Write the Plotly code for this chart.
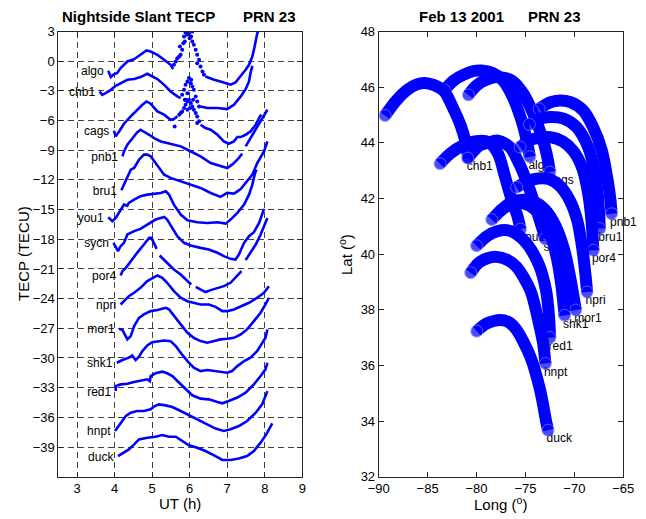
import plotly.graph_objects as go

FONT = "Liberation Sans, Arial, sans-serif"
BLUE = "#0000ff"

# ---------------- Left panel: nightside slant TECP (displayed, offset per station) ----------------
stations = ["algo", "chb1", "cags", "pnb1", "bru1", "you1", "sycn",
            "por4", "npri", "mor1", "shk1", "red1", "hnpt", "duck"]

ut_algo = [3.83, 3.90, 3.97, 4.07, 4.16, 4.34, 4.52, 4.69, 4.85, 4.96, 5.14, 5.32, 5.49, 5.56, None,
           6.42, 6.65, 6.82, 7.09, 7.22, 7.36, 7.49, 7.58, 7.67, 7.73, 7.80, 7.85]
tec_algo = [-0.97, -1.6, -1.35, -1.2, -0.7, -0.03, 0.2, 0.64, 1.08, 0.98, 0.64, 0.14, -0.37, -0.8, None,
            -1.54, -1.88, -2.05, -2.38, -2.15, -1.54, -0.87, -0.37, 0.48, 1.48, 2.83, 3.17]
sp_ut_algo = [5.58, 5.63, 5.67, 5.72, 5.74, 5.76, 5.80, 5.83, 5.85, 5.87, 5.89, 5.94, 5.98, 6.00,
              6.04, 6.07, 6.07, 6.11, 6.16, 6.20, 6.20, 6.25, 6.29, 6.34, 6.38]
sp_tec_algo = [-0.37, -0.03, 0.3, 0.48, 1.48, 0.64, 1.15, 1.82, 2.5, 1.99, 2.9, 2.66, 2.83, 2.33,
               2.5, 2.0, 3.0, 1.65, 1.15, 0.64, -0.2, 0.14, -0.53, -1.04, -1.37]

ut_chb1 = [3.60, 3.67, 3.76, 3.90, 4.03, 4.16, 4.34, 4.52, 4.69, 4.87, 4.96, 5.14, 5.32, 5.49, 5.67, 5.76, None,
           6.29, 6.47, 6.74, 7.00, 7.18, 7.36, 7.49, 7.58, 7.62, 7.67]
tec_chb1 = [-3.06, -3.4, -3.23, -2.9, -2.49, -2.22, -1.88, -1.81, -1.61, -1.27, -1.47, -1.81, -2.39, -3.06, -3.56, -3.73, None,
            -4.57, -4.74, -4.74, -4.84, -4.4, -3.56, -2.83, -2.05, -1.2, -0.47]
sp_ut_chb1 = [5.80, 5.85, 5.87, 5.89, 5.94, 5.94, 5.98, 6.03, 6.04, 6.07, 6.09, 6.11, 6.16, 6.20, 6.25]
sp_tec_chb1 = [-3.4, -2.9, -3.9, -2.39, -2.05, -3.23, -1.71, -2.22, -1.88, -2.56, -3.9, -2.9, -3.56, -4.07, -4.57]

ut_cags = [3.98, 4.03, 4.12, 4.25, 4.43, 4.60, 4.74, 4.85, 4.96, 5.14, 5.32, 5.49, 5.58, 5.67, None,
           6.29, 6.42, 6.56, 6.74, 6.91, 7.04, 7.18, 7.27, 7.36, 7.49, 7.62, 7.76, 7.87, 7.91]
tec_cags = [-7.03, -7.6, -7.1, -6.32, -5.58, -4.91, -4.4, -4.07, -4.3, -5.08, -5.41, -5.92, -5.85, -5.58, None,
            -6.42, -6.76, -6.93, -7.44, -8.11, -8.35, -8.11, -7.67, -7.67, -7.44, -7.1, -6.42, -5.58, -5.41]
sp_ut_cags = [5.60, 5.72, 5.76, 5.80, 5.85, 5.89, 5.89, 5.94, 5.94, 5.98, 6.01, 6.03, 6.07, 6.11, 6.16, 6.20, 6.20, 6.25]
sp_tec_cags = [-6.59, -5.41, -5.24, -5.08, -4.74, -4.4, -3.9, -4.07, -4.91, -3.9, -4.74, -4.23, -4.57, -4.91,
               -5.24, -5.58, -6.25, -6.08]

ut_pnb1 = [4.21, 4.25, 4.34, 4.47, 4.60, 4.69, 4.78, 4.92, 5.05, 5.23, 5.40, 5.58, 5.76, 5.94, 6.11, 6.29, 6.56,
           6.82, 7.00, 7.13, 7.27, 7.40, None, 7.49, 7.62, 7.76, 7.89, 7.98, 8.07]
tec_pnb1 = [-9.62, -9.12, -8.44, -7.77, -7.2, -6.93, -7.1, -7.44, -7.77, -8.11, -8.28, -8.44, -8.61, -8.95, -9.29,
            -9.62, -10.3, -10.63, -10.8, -10.46, -9.96, -9.35, None, -8.61, -7.77, -6.93, -6.08, -5.58, -4.91]

ut_bru1 = [4.18, 4.30, 4.43, 4.52, 4.65, 4.78, 4.87, 4.96, 5.09, 5.23, 5.32, 5.49, 5.76, 6.03, 6.29, 6.56, 6.82,
           7.00, 7.18, 7.36, 7.53, 7.67, 7.80, 7.98, 8.07]
tec_bru1 = [-13.05, -11.97, -10.96, -10.8, -9.96, -9.45, -9.45, -9.62, -10.29, -10.97, -11.47, -11.8, -12.14,
            -12.48, -12.81, -13.32, -13.72, -13.32, -13.39, -12.92, -12.14, -11.47, -10.3, -9.12, -8.1]

ut_you1 = [3.83, 3.94, 4.03, 4.12, 4.25, 4.34, 4.38, 4.52, 4.69, 4.87, 5.05, 5.23, 5.36, 5.45, 5.58, 5.76, 5.94,
           6.20, 6.47, 6.74, 6.96, 7.09, 7.27, 7.45, 7.58, 7.67, 7.73, 7.78]
tec_you1 = [-15.78, -16.18, -15.85, -15.34, -14.5, -14.6, -14.33, -14.0, -13.65, -13.49, -13.39, -13.32, -13.15,
            -13.49, -14.5, -15.5, -16.08, -16.28, -16.35, -16.28, -16.42, -16.01, -15.34, -14.5, -13.49, -12.48,
            -11.47, -10.96]

ut_sycn = [3.97, 4.03, 4.09, 4.16, 4.25, 4.34, 4.52, 4.69, 4.78, 4.92, 5.09, 5.23, 5.32, 5.40, 5.54, 5.67, 5.85,
           6.03, 6.29, 6.51, 6.74, 6.91, 7.09, 7.22, 7.31, 7.45, 7.58, 7.71, 7.85, 7.98]
tec_sycn = [-18.36, -18.87, -19.2, -18.7, -18.36, -17.52, -17.18, -16.95, -16.74, -16.35, -16.01, -15.85, -15.74,
            -16.01, -16.85, -17.69, -18.36, -18.63, -18.87, -19.04, -19.37, -19.71, -19.98, -20.05, -19.55, -18.36,
            -17.69, -17.28, -16.35, -14.93]

ut_por4 = [4.16, 4.21, 4.30, 4.43, 4.60, 4.78, 4.92, 4.98, 5.05, 5.12, None, 5.20, 5.32, 5.45, 5.58, 5.76, 5.94,
           6.04, None, 6.16, 6.29, 6.42, 6.56, 6.74, 6.91, 7.09, 7.27, 7.38, None, 7.49, 7.62, 7.76, 7.89, 7.98, 8.07]
tec_por4 = [-21.66, -21.22, -20.89, -20.21, -19.37, -18.53, -17.86, -17.86, -18.36, -18.97, None, -19.64, -20.11,
            -20.55, -21.05, -21.56, -22.23, -22.57, None, -22.81, -23.07, -23.34, -23.14, -22.91, -22.74, -22.4,
            -21.73, -21.22, None, -20.11, -19.37, -18.53, -17.52, -16.68, -15.85]

ut_npri = [4.16, 4.25, 4.38, 4.52, 4.69, 4.87, 5.05, 5.14, 5.27, 5.40, 5.58, 5.76, 5.94, 6.11, 6.29, 6.51, 6.69,
           6.87, 7.00, 7.18, 7.36, 7.58, 7.80, 7.98, 8.11]
tec_npri = [-24.59, -24.26, -23.75, -23.41, -22.91, -22.23, -21.8, -21.66, -21.9, -22.4, -23.24, -23.91, -24.26,
            -24.42, -24.59, -24.59, -24.83, -25.26, -25.26, -25.09, -24.76, -24.42, -23.91, -23.41, -22.74]

ut_mor1 = [4.12, 4.21, 4.34, 4.43, 4.52, 4.65, 4.78, 4.96, 5.14, 5.36, 5.45, 5.58, 5.76, 5.94, 6.11, 6.29, 6.47,
           6.65, 6.82, 7.00, 7.18, 7.36, 7.53, 7.71, 7.89, 8.02, 8.11]
tec_mor1 = [-27.05, -27.18, -28.12, -27.79, -26.78, -25.94, -25.6, -25.26, -25.16, -24.93, -25.09, -25.76, -26.6,
            -27.45, -27.96, -28.29, -28.46, -28.29, -28.12, -28.06, -27.96, -27.62, -27.11, -26.27, -25.43, -24.59,
            -23.91]

ut_shk1 = [4.06, 4.21, 4.38, 4.47, 4.56, 4.65, 4.74, 4.87, 5.00, 5.14, 5.32, 5.49, 5.63, 5.76, 5.94, 6.11, 6.29,
           6.47, 6.65, 6.82, 7.00, 7.13, 7.27, 7.45, 7.62, 7.80, 7.93, 8.02, 8.07]
tec_shk1 = [-30.48, -30.2, -29.97, -29.74, -30.2, -29.87, -29.3, -28.73, -28.4, -28.3, -28.23, -28.3, -28.8,
            -29.47, -30.31, -30.98, -31.32, -31.22, -31.32, -31.39, -31.49, -31.32, -30.82, -30.31, -29.97, -29.3,
            -28.46, -27.96, -27.12]

ut_red1 = [4.03, 4.03, 4.16, 4.34, 4.52, 4.69, 4.87, 4.94, 4.96, 5.09, 5.27, 5.40, 5.54, 5.72, 5.89, 6.07, 6.29,
           6.51, 6.74, 6.87, 7.04, 7.27, 7.49, 7.71, 7.89, 8.02, 8.07]
tec_red1 = [-33.35, -32.84, -32.67, -32.6, -32.43, -32.33, -32.16, -32.33, -31.82, -31.55, -31.38, -31.55, -31.82,
            -32.5, -33.17, -33.77, -34.11, -34.18, -34.45, -34.58, -34.34, -34.0, -33.5, -32.67, -31.82, -31.15,
            -30.48]

ut_hnpt = [4.01, 4.07, 4.16, 4.30, 4.43, 4.60, 4.78, 4.96, 5.07, 5.18, 5.36, 5.54, 5.76, 5.98, 6.20, 6.47, 6.69,
           6.91, 7.09, 7.31, 7.53, 7.76, 7.93, 8.07]
tec_hnpt = [-37.38, -37.04, -36.54, -35.87, -35.53, -35.36, -35.36, -35.19, -34.86, -34.69, -34.79, -34.96, -35.36,
            -35.8, -36.2, -36.71, -37.14, -37.38, -37.21, -36.88, -36.37, -35.53, -34.69, -33.35]

ut_duck = [4.09, 4.25, 4.38, 4.52, 4.65, 4.87, 5.09, 5.27, 5.45, 5.63, 5.80, 5.98, 6.20, 6.42, 6.65, 6.87, 7.09,
           7.31, 7.53, 7.71, 7.89, 8.04, 8.20]
tec_duck = [-39.91, -39.57, -39.24, -38.73, -38.23, -38.06, -37.96, -37.79, -37.96, -37.96, -38.4, -38.83, -39.07,
            -39.4, -39.84, -40.31, -40.31, -40.17, -39.91, -39.4, -38.56, -37.72, -36.61]

# ---------------- Right panel: pierce-point tracks (longitude, latitude) ----------------
lon_chb1 = [-89.35, -88.2, -87.1, -86.1, -85.3, -84.4, -83.3, -82.4, -81.6, -81.1, -80.85]
lat_chb1 = [44.98, 45.52, 45.9, 46.1, 46.15, 46.08, 45.85, 45.25, 44.6, 44.0, 43.45]
lon_algo = [-83.3, -82.3, -81.3, -80.3, -79.5, -78.4, -77.3, -76.3, -75.4, -74.85, -74.55]
lat_algo = [45.9, 46.25, 46.45, 46.58, 46.6, 46.52, 46.24, 45.65, 44.8, 44.05, 43.5]
lon_cags = [-80.83, -80.0, -78.6, -77.6, -76.4, -75.2, -74.2, -73.2, -72.7, -72.5]
lat_cags = [45.72, 46.06, 46.32, 46.36, 46.24, 45.76, 45.04, 44.09, 43.37, 42.95]
lon_pnb1 = [-73.6, -72.5, -71.5, -70.4, -69.1, -68.1, -67.2, -66.6, -66.3, -66.2]
lat_pnb1 = [45.22, 45.45, 45.52, 45.46, 45.16, 44.57, 43.73, 42.65, 41.9, 41.45]
lon_bru1 = [-74.6, -73.5, -72.5, -71.1, -69.8, -68.6, -67.9, -67.55, -67.4]
lat_bru1 = [44.66, 44.87, 44.93, 44.87, 44.57, 43.85, 42.89, 41.9, 40.92]
lon_you1 = [-83.73, -82.7, -81.35, -80.0, -78.8, -77.8, -77.1, -76.45, -75.85, -75.5]
lat_you1 = [43.25, 43.61, 43.91, 44.06, 44.03, 43.61, 42.8, 42.0, 41.4, 40.9]
lon_sycn = [-80.9, -79.7, -78.9, -77.8, -76.6, -75.7, -74.7, -73.8, -73.3, -73.0]
lat_sycn = [43.45, 43.9, 44.0, 44.08, 43.85, 43.3, 42.45, 41.5, 40.95, 40.55]
lon_por4 = [-75.55, -74.5, -73.5, -72.4, -71.2, -70.1, -69.2, -68.6, -68.25, -68.06]
lat_por4 = [43.85, 44.1, 44.18, 44.2, 44.05, 43.7, 43.1, 42.2, 41.2, 40.14]
lon_npri = [-75.9, -74.8, -73.7, -72.6, -71.5, -70.5, -69.7, -69.15, -68.85, -68.7]
lat_npri = [42.4, 42.62, 42.72, 42.7, 42.45, 41.95, 41.2, 40.1, 39.2, 38.64]
lon_mor1 = [-77.6, -76.5, -75.3, -74.2, -73.0, -71.9, -71.0, -70.4, -70.05, -69.85]
lat_mor1 = [41.55, 41.85, 41.95, 41.9, 41.6, 41.0, 40.1, 39.1, 38.4, 37.99]
lon_shk1 = [-78.45, -77.4, -76.3, -75.2, -74.1, -73.2, -72.3, -71.7, -71.3, -71.0]
lat_shk1 = [41.24, 41.6, 41.8, 41.82, 41.62, 41.2, 40.55, 39.7, 38.8, 37.8]
lon_red1 = [-80.0, -78.9, -77.9, -76.9, -75.9, -74.87, -73.6, -72.9, -72.6, -72.49]
lat_red1 = [40.3, 40.65, 40.82, 40.86, 40.72, 40.38, 39.6, 38.7, 37.8, 37.0]
lon_hnpt = [-80.6, -79.8, -78.96, -77.94, -76.9, -75.9, -74.5, -73.7, -73.2, -72.96]
lat_hnpt = [39.33, 39.68, 39.84, 39.9, 39.8, 39.54, 38.7, 37.63, 36.8, 36.07]
lon_duck = [-79.98, -79.0, -77.6, -76.7, -75.9, -74.5, -73.5, -72.85, -72.69]
lat_duck = [37.23, 37.5, 37.63, 37.55, 37.27, 36.31, 35.11, 33.92, 33.67]

g = globals()
fig = go.Figure()

# left labels (drawn first)
for s in stations:
    ut = g["ut_" + s]
    tec = g["tec_" + s]
    fig.add_trace(go.Scatter(x=[ut[0] - 0.12], y=[tec[0] - 0.15], mode="text", text=[s],
                             textposition="middle left", cliponaxis=False,
                             textfont=dict(family=FONT, size=12, color="black"),
                             xaxis="x", yaxis="y", hoverinfo="skip", showlegend=False))
# left curves
for s in stations:
    fig.add_trace(go.Scatter(x=g["ut_" + s], y=g["tec_" + s], mode="lines",
                             line=dict(color=BLUE, width=2.6), connectgaps=False,
                             xaxis="x", yaxis="y", showlegend=False))
    if "sp_ut_" + s in g:
        fig.add_trace(go.Scatter(x=g["sp_ut_" + s], y=g["sp_tec_" + s], mode="markers",
                                 marker=dict(color=BLUE, size=4),
                                 xaxis="x", yaxis="y", showlegend=False))

# right labels (drawn under the tracks)
for s in stations:
    lon = g["lon_" + s]
    lat = g["lat_" + s]
    fig.add_trace(go.Scatter(x=[lon[-1] - 0.15], y=[lat[-1] - 0.33], mode="text", text=[s],
                             textposition="middle right", cliponaxis=False,
                             textfont=dict(family=FONT, size=12, color="black"),
                             xaxis="x2", yaxis="y2", hoverinfo="skip", showlegend=False))
# right tracks
for s in stations:
    lon = g["lon_" + s]
    lat = g["lat_" + s]
    n = len(lon)
    sizes = [12] + [0] * (n - 2) + [12]
    fig.add_trace(go.Scatter(x=lon, y=lat, mode="lines+markers",
                             line=dict(color=BLUE, width=12, shape="spline", smoothing=0.8),
                             marker=dict(color=BLUE, size=sizes, line=dict(width=1, color="#8080ff")),
                             xaxis="x2", yaxis="y2", showlegend=False))

axis_common = dict(showline=True, linecolor="#262626", linewidth=1, mirror="ticks",
                   ticks="inside", ticklen=5, tickcolor="#262626", zeroline=False, automargin=False,
                   tickfont=dict(family=FONT, size=13, color="black"))

ytop = 1 - 31.5 / 519
ybot = 1 - 476.7 / 519

fig.update_layout(
    template="none",
    width=646, height=519,
    margin=dict(l=0, r=0, t=0, b=0, pad=0, autoexpand=False),
    paper_bgcolor="white", plot_bgcolor="white",
    showlegend=False,
    xaxis=dict(domain=[58.3 / 646, 302.3 / 646], range=[2.5, 9], tickvals=[3, 4, 5, 6, 7, 8, 9],
               showgrid=True, gridcolor="#404040", gridwidth=1, griddash="6px,4px", anchor="y",
               **axis_common),
    yaxis=dict(domain=[ybot, ytop], range=[-42, 3], tickvals=list(range(-39, 4, 3)),
               showgrid=True, gridcolor="#404040", gridwidth=1, griddash="6px,4px", anchor="x",
               **axis_common),
    xaxis2=dict(domain=[378.7 / 646, 623.3 / 646], range=[-90, -65], tickvals=[-90, -85, -80, -75, -70, -65],
                showgrid=False, anchor="y2", **axis_common),
    yaxis2=dict(domain=[ybot, ytop], range=[32, 48], tickvals=list(range(32, 49, 2)),
                showgrid=False, anchor="x2", **axis_common),
)

ann = []
title_font = dict(family=FONT, size=15, color="black")
label_font = dict(family=FONT, size=15, color="black")
ann.append(dict(text="<b>Nightside Slant TECP</b>", x=138 / 646, y=1 - 17 / 519, xref="paper", yref="paper",
                showarrow=False, font=title_font, xanchor="center", yanchor="middle"))
ann.append(dict(text="<b>PRN 23</b>", x=269 / 646, y=1 - 17 / 519, xref="paper", yref="paper",
                showarrow=False, font=title_font, xanchor="center", yanchor="middle"))
ann.append(dict(text="<b>Feb 13 2001</b>", x=461 / 646, y=1 - 17 / 519, xref="paper", yref="paper",
                showarrow=False, font=title_font, xanchor="center", yanchor="middle"))
ann.append(dict(text="<b>PRN 23</b>", x=554 / 646, y=1 - 17 / 519, xref="paper", yref="paper",
                showarrow=False, font=title_font, xanchor="center", yanchor="middle"))
ann.append(dict(text="UT (h)", x=180 / 646, y=1 - 503 / 519, xref="paper", yref="paper",
                showarrow=False, font=label_font, xanchor="center", yanchor="middle"))
ann.append(dict(text="TECP (TECU)", x=23 / 646, y=1 - 254 / 519, xref="paper", yref="paper", textangle=-90,
                showarrow=False, font=label_font, xanchor="center", yanchor="middle"))
ann.append(dict(text="Long (<sup>o</sup>)", x=500 / 646, y=1 - 503 / 519, xref="paper", yref="paper",
                showarrow=False, font=label_font, xanchor="center", yanchor="middle"))
ann.append(dict(text="Lat (<sup>o</sup>)", x=345 / 646, y=1 - 254 / 519, xref="paper", yref="paper", textangle=-90,
                showarrow=False, font=label_font, xanchor="center", yanchor="middle"))
fig.update_layout(annotations=ann)

fig.write_html("out.html", config={"displayModeBar": False, "staticPlot": True},
               post_script="document.body.style.margin='0';document.body.style.overflow='hidden';")
